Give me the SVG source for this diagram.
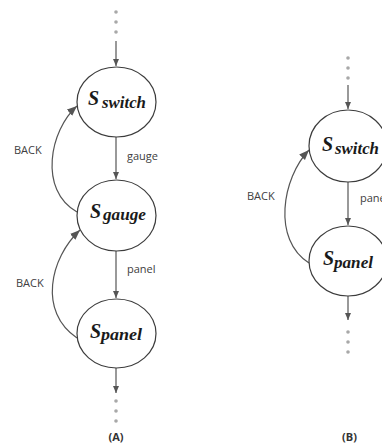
<svg xmlns="http://www.w3.org/2000/svg" width="382" height="445" viewBox="0 0 382 445">
<style>
.node{fill:#fff;stroke:#3c3c3c;stroke-width:1.2}
.edge{fill:none;stroke:#555;stroke-width:1.2}
.dot{fill:#a8a8a8}
.S{font-family:"Liberation Serif",serif;font-weight:bold;font-style:italic;font-size:20px;fill:#1a1a1a}
.sub{font-family:"Liberation Serif",serif;font-weight:bold;font-style:italic;font-size:16px;fill:#1a1a1a}
.lbl{font-family:"Open Sans","Liberation Sans",sans-serif;font-size:11px;fill:#404040}
.cap{font-family:"Open Sans","Liberation Sans",sans-serif;font-size:11px;font-weight:bold;fill:#333}
</style>
<defs>
<marker id="ah" markerUnits="userSpaceOnUse" markerWidth="8" markerHeight="8" refX="7" refY="3" orient="auto"><path d="M0,0 L7,3 L0,6 z" fill="#555"/></marker>
<marker id="ahb" markerUnits="userSpaceOnUse" markerWidth="11" markerHeight="10" refX="10" refY="4" orient="auto"><path d="M0,0 L10,4 L0,8 z" fill="#555"/></marker>
</defs>
<g id="connectors">
<path class="edge" d="M116,41 L116,66" marker-end="url(#ah)"/>
<path class="edge" d="M116,137 L116,179" marker-end="url(#ah)"/>
<path class="edge" d="M116,251 L116,298" marker-end="url(#ah)"/>
<path class="edge" d="M116,368 L116,393" marker-end="url(#ah)"/>
<path class="edge" d="M77,212 C38,190 50,130 77,106" marker-end="url(#ahb)"/>
<path class="edge" d="M77,338 C38,312 50,258 80,230" marker-end="url(#ahb)"/>
<path class="edge" d="M348,85 L348,109" marker-end="url(#ah)"/>
<path class="edge" d="M348,182 L348,225" marker-end="url(#ah)"/>
<path class="edge" d="M348,296 L348,320" marker-end="url(#ah)"/>
<path class="edge" d="M309,263 C272,240 282,178 309,150" marker-end="url(#ahb)"/>
<text class="lbl" x="127" y="160">gauge</text>
<text class="lbl" x="127" y="273">panel</text>
<text class="lbl" x="14" y="154">BACK</text>
<text class="lbl" x="16" y="287">BACK</text>
<text class="lbl" x="247" y="200">BACK</text>
<text class="lbl" x="360" y="202">panel</text>
</g>
<g id="dots">
<circle class="dot" cx="116" cy="12" r="1.8"/><circle class="dot" cx="116" cy="22" r="1.8"/><circle class="dot" cx="116" cy="32" r="1.8"/>
<circle class="dot" cx="116" cy="401" r="1.8"/><circle class="dot" cx="116" cy="411" r="1.8"/><circle class="dot" cx="116" cy="421" r="1.8"/>
<circle class="dot" cx="348" cy="58" r="1.8"/><circle class="dot" cx="348" cy="68" r="1.8"/><circle class="dot" cx="348" cy="78" r="1.8"/>
<circle class="dot" cx="348" cy="332" r="1.8"/><circle class="dot" cx="348" cy="342" r="1.8"/><circle class="dot" cx="348" cy="352" r="1.8"/>
</g>
<g id="a-switch">
<ellipse class="node" cx="116.5" cy="102" rx="39.5" ry="35"/>
<text class="S" x="88" y="105">S</text>
<text class="sub" x="102" y="108" textLength="44" lengthAdjust="spacingAndGlyphs">switch</text>
</g>
<g id="a-gauge">
<ellipse class="node" cx="116.5" cy="215.5" rx="39.5" ry="35.5"/>
<text class="S" x="90" y="218">S</text>
<text class="sub" x="103" y="220" textLength="43" lengthAdjust="spacingAndGlyphs">gauge</text>
</g>
<g id="a-panel">
<ellipse class="node" cx="116.5" cy="333.5" rx="39.5" ry="34.5"/>
<text class="S" x="90" y="338">S</text>
<text class="sub" x="101" y="340" textLength="41" lengthAdjust="spacingAndGlyphs">panel</text>
</g>
<g id="b-switch">
<ellipse class="node" cx="348" cy="146" rx="39" ry="36"/>
<text class="S" x="322" y="151">S</text>
<text class="sub" x="335" y="154" textLength="44" lengthAdjust="spacingAndGlyphs">switch</text>
</g>
<g id="b-panel">
<ellipse class="node" cx="348" cy="261" rx="39" ry="35"/>
<text class="S" x="323" y="265">S</text>
<text class="sub" x="334" y="268" textLength="39" lengthAdjust="spacingAndGlyphs">panel</text>
</g>
<text class="cap" x="116" y="441" text-anchor="middle">(A)</text>
<text class="cap" x="349.5" y="441" text-anchor="middle">(B)</text>
</svg>
